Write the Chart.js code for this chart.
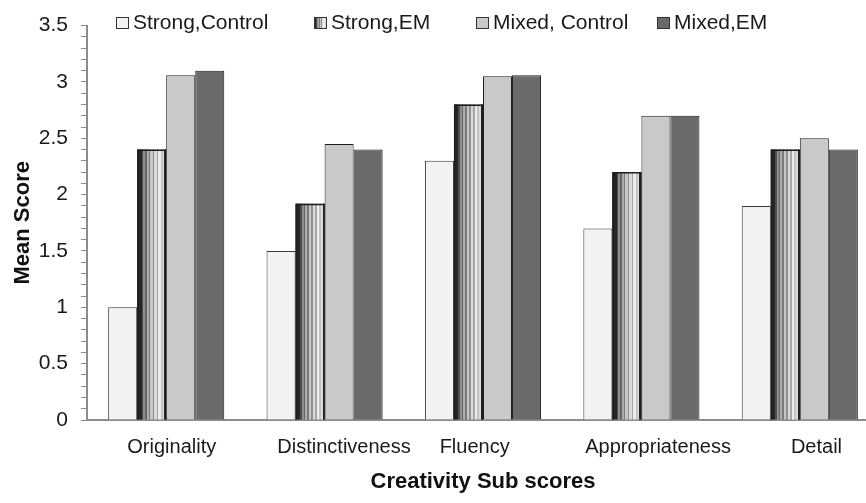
<!DOCTYPE html>
<html>
<head>
<meta charset="utf-8">
<script src="https://cdn.jsdelivr.net/npm/chart.js@4.4.1/dist/chart.umd.min.js"></script>
<style>
  html, body { margin: 0; padding: 0; background: #fff; overflow: hidden; }
  #wrap { width: 879px; height: 503px; }
</style>
</head>
<body>
<div id="wrap"><canvas id="chart" width="879" height="503"></canvas></div>
<script>
const categories = ['Originality', 'Distinctiveness', 'Fluency', 'Appropriateness', 'Detail'];
const seriesNames = ['Strong,Control', 'Strong,EM', 'Mixed, Control', 'Mixed,EM'];
const strongControl = [1.0, 1.5, 2.3, 1.7, 1.9];
const strongEM = [2.4, 1.92, 2.8, 2.2, 2.4];
const mixedControl = [3.06, 2.45, 3.05, 2.7, 2.5];
const mixedEM = [3.1, 2.4, 3.06, 2.7, 2.4];
const yTickLabels = [0, 0.5, 1, 1.5, 2, 2.5, 3, 3.5];

// the category labels in the source sit a little off their groups
const labelPad = [2, 7, -3, 6, 6];
const legendX = [116, 314, 476, 657];

// vertical bands of the "cylinder" fill used for Strong,EM
const bands = [
  [4.5, '#262626'], [1.5, '#4e4e4e'], [2, '#8e8e8e'], [1.5, '#666666'],
  [2, '#adadad'], [1.5, '#7a7a7a'], [2.5, '#c6c6c6'], [1.5, '#8f8f8f'],
  [2.5, '#dadada'], [1.5, '#a6a6a6'], [2.5, '#ececec'], [2, '#c4c4c4'],
  [1.5, '#dcdcdc'], [2, '#262626']
];

function stripes(ctx, x0, x1) {
  const g = ctx.createLinearGradient(x0, 0, x1, 0);
  const total = bands.reduce((s, b) => s + b[0], 0);
  let pos = 0;
  bands.forEach(([w, c]) => {
    g.addColorStop(pos / total, c);
    pos += w;
    g.addColorStop(Math.min(1, pos / total), c);
  });
  return g;
}

function padLabel(text, n) {
  return n >= 0 ? ' '.repeat(n) + text : text + ' '.repeat(-n);
}

const stripePlugin = {
  id: 'stripes',
  afterDatasetDraw(chart, args) {
    if (args.index !== 1) return;
    const ctx = chart.ctx;
    ctx.save();
    args.meta.data.forEach(el => {
      const { x, y, base, width } = el.getProps(['x', 'y', 'base', 'width'], true);
      const left = x - width / 2;
      const right = x + width / 2;
      ctx.fillStyle = stripes(ctx, left, right);
      ctx.fillRect(left, y, width, base - y);
      ctx.strokeStyle = '#1e1e1e';
      ctx.lineWidth = 1.5;
      ctx.beginPath();
      ctx.moveTo(left + 0.75, base);
      ctx.lineTo(left + 0.75, y + 0.75);
      ctx.lineTo(right - 0.75, y + 0.75);
      ctx.lineTo(right - 0.75, base);
      ctx.stroke();
    });
    ctx.restore();
  }
};

const legendPlugin = {
  id: 'insideLegend',
  afterDraw(chart) {
    const ctx = chart.ctx;
    ctx.save();
    ctx.font = '21px "Liberation Sans", Arial, sans-serif';
    ctx.textBaseline = 'alphabetic';
    chart.data.datasets.forEach((ds, i) => {
      const bx = legendX[i];
      const by = 17;
      ctx.fillStyle = i === 1 ? stripes(ctx, bx, bx + 13) : ds.backgroundColor;
      ctx.fillRect(bx, by, 13, 12);
      ctx.strokeStyle = '#333';
      ctx.lineWidth = 1;
      ctx.strokeRect(bx + 0.5, by + 0.5, 12, 11);
      ctx.fillStyle = '#1a1a1a';
      ctx.fillText(ds.label, bx + 17, 29);
    });
    ctx.restore();
  }
};

Chart.defaults.font.family = '"Liberation Sans", Arial, sans-serif';
Chart.defaults.color = '#1a1a1a';

const ctx = document.getElementById('chart').getContext('2d');
new Chart(ctx, {
  type: 'bar',
  data: {
    labels: categories,
    datasets: [
      { label: seriesNames[0], data: strongControl, backgroundColor: '#f2f2f2', borderColor: '#3a3a3a', borderWidth: 1 },
      { label: seriesNames[1], data: strongEM, backgroundColor: '#8a8a8a', borderColor: '#1e1e1e', borderWidth: 1 },
      { label: seriesNames[2], data: mixedControl, backgroundColor: '#c9c9c9', borderColor: '#1e1e1e', borderWidth: 1 },
      { label: seriesNames[3], data: mixedEM, backgroundColor: '#6a6a6a', borderColor: '#1e1e1e', borderWidth: 1 }
    ]
  },
  options: {
    responsive: false,
    animation: false,
    layout: { padding: { top: 17, right: 0, bottom: 0, left: 0 } },
    datasets: {
      bar: { categoryPercentage: 0.733, barPercentage: 1, borderSkipped: 'start' }
    },
    plugins: {
      legend: { display: false },
      tooltip: { enabled: false }
    },
    scales: {
      x: {
        grid: { display: false, drawTicks: false },
        border: { display: true, color: '#8c8c8c', width: 2 },
        ticks: {
          font: { size: 20 },
          color: '#1a1a1a',
          padding: 15,
          maxRotation: 0,
          autoSkip: false,
          callback: (v, i) => padLabel(categories[i], labelPad[i])
        },
        title: {
          display: true,
          text: 'Creativity Sub scores',
          font: { size: 22, weight: 'bold' },
          color: '#111',
          padding: { top: 0, bottom: 8 }
        },
        afterFit: s => { s.height = 83; }
      },
      y: {
        min: 0,
        max: 3.5,
        grid: { drawOnChartArea: false, drawTicks: true, tickLength: 6, color: '#8c8c8c', lineWidth: 1 },
        border: { display: true, color: '#8c8c8c', width: 2 },
        ticks: {
          stepSize: 0.1,
          autoSkip: false,
          padding: 13,
          font: { size: 21 },
          color: '#1a1a1a',
          callback: v => {
            const hit = yTickLabels.find(t => Math.abs(t - v) < 1e-6);
            return hit === undefined ? '' : String(hit);
          }
        },
        title: {
          display: true,
          text: 'Mean Score',
          font: { size: 22, weight: 'bold' },
          color: '#111',
          padding: { top: 10, bottom: 0 }
        },
        afterFit: s => { s.width = 87; }
      }
    }
  },
  plugins: [stripePlugin, legendPlugin]
});
</script>
</body>
</html>
